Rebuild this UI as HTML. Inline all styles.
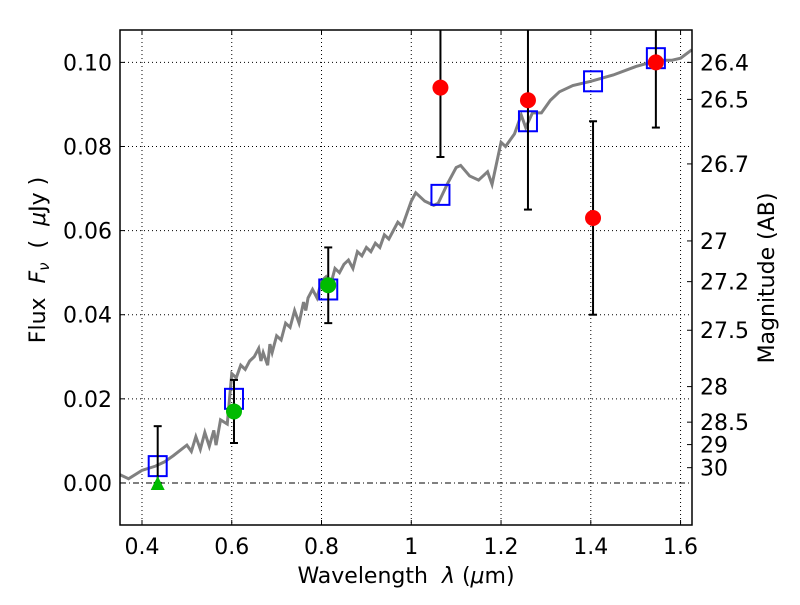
<!DOCTYPE html>
<html><head><meta charset="utf-8"><style>
html,body{margin:0;padding:0;background:#fff;}
svg text{font-family:"DejaVu Sans","Liberation Sans",sans-serif;}
</style></head><body>
<svg id="chart" width="800" height="600" xmlns="http://www.w3.org/2000/svg"></svg>
<script>
const xTicks=[0.4,0.6,0.8,1.0,1.2,1.4,1.6];
const xTickLabels=["0.4","0.6","0.8","1","1.2","1.4","1.6"];
const yTicks=[0,0.02,0.04,0.06,0.08,0.10];
const yTickLabels=["0.00","0.02","0.04","0.06","0.08","0.10"];
const magTicks=[26.4,26.5,26.7,27,27.2,27.5,28,28.5,29,30];
const magLabels=["26.4","26.5","26.7","27","27.2","27.5","28","28.5","29","30"];
const specWave=[0.35,0.37,0.40,0.43,0.45,0.47,0.50,0.51,0.52,0.53,0.54,0.55,0.56,0.565,0.575,0.59,0.60,0.61,0.62,0.63,0.64,0.65,0.66,0.665,0.67,0.68,0.685,0.69,0.70,0.71,0.72,0.73,0.74,0.75,0.76,0.765,0.77,0.78,0.79,0.80,0.81,0.82,0.83,0.84,0.85,0.86,0.87,0.88,0.89,0.90,0.91,0.92,0.93,0.94,0.95,0.96,0.97,0.98,0.99,1.0,1.01,1.03,1.05,1.06,1.08,1.10,1.11,1.13,1.15,1.17,1.18,1.20,1.21,1.23,1.245,1.255,1.27,1.29,1.31,1.33,1.36,1.40,1.45,1.50,1.55,1.58,1.60,1.625];
const specFlux=[0.002,0.001,0.003,0.004,0.005,0.0065,0.009,0.0075,0.011,0.008,0.012,0.0087,0.0125,0.009,0.015,0.014,0.026,0.025,0.028,0.027,0.029,0.030,0.032,0.029,0.031,0.028,0.033,0.031,0.035,0.034,0.038,0.037,0.041,0.038,0.043,0.041,0.044,0.046,0.044,0.048,0.049,0.047,0.051,0.050,0.052,0.053,0.051,0.055,0.054,0.056,0.055,0.057,0.056,0.059,0.058,0.060,0.062,0.061,0.064,0.067,0.069,0.067,0.066,0.0665,0.071,0.075,0.0755,0.073,0.072,0.074,0.071,0.081,0.080,0.083,0.0875,0.0845,0.088,0.088,0.091,0.093,0.0945,0.0955,0.097,0.099,0.1005,0.1005,0.101,0.103];
const modelWave=[0.435,0.605,0.815,1.065,1.26,1.405,1.545];
const modelFlux=[0.004,0.020,0.046,0.0685,0.086,0.0955,0.101];
const greenWave=[0.605,0.815];
const greenFlux=[0.017,0.047];
const greenLo=[0.0095,0.038];
const greenHi=[0.0245,0.056];
const limitWave=[0.435];
const limitFlux=[0.0];
const limitHi=[0.0135];
const redWave=[1.065,1.26,1.405,1.545];
const redFlux=[0.094,0.091,0.063,0.100];
const redLo=[0.0775,0.065,0.040,0.0845];
const redHi=[0.12,0.12,0.086,0.12];

const L=120,R=692,T=30,B=525;
const xMin=0.351,xMax=1.6255,yMin=-0.01,yMax=0.1077;
const X=v=>L+(v-xMin)/(xMax-xMin)*(R-L);
const Y=v=>B-(v-yMin)/(yMax-yMin)*(B-T);
const svg=document.getElementById('chart');
const NS='http://www.w3.org/2000/svg';
function mk(tag,attrs,parent){const e=document.createElementNS(NS,tag);for(const k in attrs)e.setAttribute(k,attrs[k]);(parent||svg).appendChild(e);return e;}
const defs=mk('defs',{});
const cp=mk('clipPath',{id:'clip'},defs);mk('rect',{x:L,y:T,width:R-L,height:B-T},cp);
const plot=mk('g',{'clip-path':'url(#clip)'});



xTicks.forEach((t,i)=>{
  const g=mk('line',{x1:X(t),x2:X(t),y1:T,y2:B,stroke:'#000','stroke-width':1,'stroke-dasharray':'1,3'},plot);
  
  
  mk('line',{x1:X(t),x2:X(t),y1:B,y2:B-5,stroke:'#000'});
  mk('line',{x1:X(t),x2:X(t),y1:T,y2:T+5,stroke:'#000'});
  const tx=mk('text',{x:X(t),y:B+29,'text-anchor':'middle','font-size':22});
  tx.textContent=xTickLabels[i];
  
  
});
yTicks.forEach((t,i)=>{
  const g=mk('line',{x1:L,x2:R,y1:Y(t),y2:Y(t),stroke:'#000','stroke-width':1,'stroke-dasharray':t===0?'6,3,1,3':'1,3'},plot);
  
  
  mk('line',{x1:L,x2:L+5,y1:Y(t),y2:Y(t),stroke:'#000'});
  const tx=mk('text',{x:L-8,y:Y(t)+8,'text-anchor':'end','font-size':22});
  tx.textContent=yTickLabels[i];
  
  
});
magTicks.forEach((m,i)=>{
  const f=Math.pow(10,(23.9-m)/2.5);
  mk('line',{x1:R-5,x2:R,y1:Y(f),y2:Y(f),stroke:'#000'});
  const tx=mk('text',{x:R+8,y:Y(f)+8,'font-size':22});
  tx.textContent=magLabels[i];
  
  
});
const sp=mk('polyline',{points:specWave.map((w,i)=>X(w)+','+Y(specFlux[i])).join(' '),fill:'none',stroke:'#808080','stroke-width':3},plot);


function errbar(x,lo,hi){
  const g=mk('g',{stroke:'#000','stroke-width':2},plot);
  
  
  mk('line',{x1:X(x),x2:X(x),y1:Y(lo),y2:Y(hi)},g);
  mk('line',{x1:X(x)-4,x2:X(x)+4,y1:Y(lo),y2:Y(lo)},g);
  mk('line',{x1:X(x)-4,x2:X(x)+4,y1:Y(hi),y2:Y(hi)},g);
}
modelWave.forEach((w,i)=>{
  const r=mk('rect',{x:X(w)-9,y:Y(modelFlux[i])-10,width:18,height:20,fill:'none',stroke:'#0000ff','stroke-width':2},plot);
  
  
});
limitWave.forEach((w,i)=>{
  errbar(w,limitFlux[i],limitHi[i]);
  const p=mk('polygon',{points:`${X(w)},${Y(limitFlux[i])-7} ${X(w)-7},${Y(limitFlux[i])+7} ${X(w)+7},${Y(limitFlux[i])+7}`,fill:'#00bb00'},plot);
  
  
});
greenWave.forEach((w,i)=>{
  errbar(w,greenLo[i],greenHi[i]);
  const c=mk('circle',{cx:X(w),cy:Y(greenFlux[i]),r:8,fill:'#00bb00'},plot);
  
  
});
redWave.forEach((w,i)=>{
  errbar(w,redLo[i],redHi[i]);
  const c=mk('circle',{cx:X(w),cy:Y(redFlux[i]),r:8,fill:'#ff0000'},plot);
  
  
});
const fr=mk('rect',{x:L,y:T,width:R-L,height:B-T,fill:'none',stroke:'#000','stroke-width':1.5});


const xt=mk('text',{x:406,y:583,'text-anchor':'middle','font-size':22,'xml:space':'preserve'});
xt.innerHTML='Wavelength  <tspan font-style="italic">λ</tspan> (<tspan font-style="italic">μ</tspan>m)';
xt.style.whiteSpace='pre';


const yt=mk('text',{x:0,y:0,'text-anchor':'middle','font-size':22,transform:'translate(45,260) rotate(-90)'});
yt.style.whiteSpace='pre';
yt.innerHTML='Flux  <tspan font-style="italic">F</tspan><tspan font-style="italic" font-size="15" dy="4">ν</tspan><tspan dy="-4">  (  </tspan><tspan font-style="italic">μ</tspan>Jy )';


const rt=mk('text',{x:0,y:0,'text-anchor':'middle','font-size':22,transform:'translate(774,278) rotate(-90)'});
rt.textContent='Magnitude (AB)';


</script>
</body></html>
